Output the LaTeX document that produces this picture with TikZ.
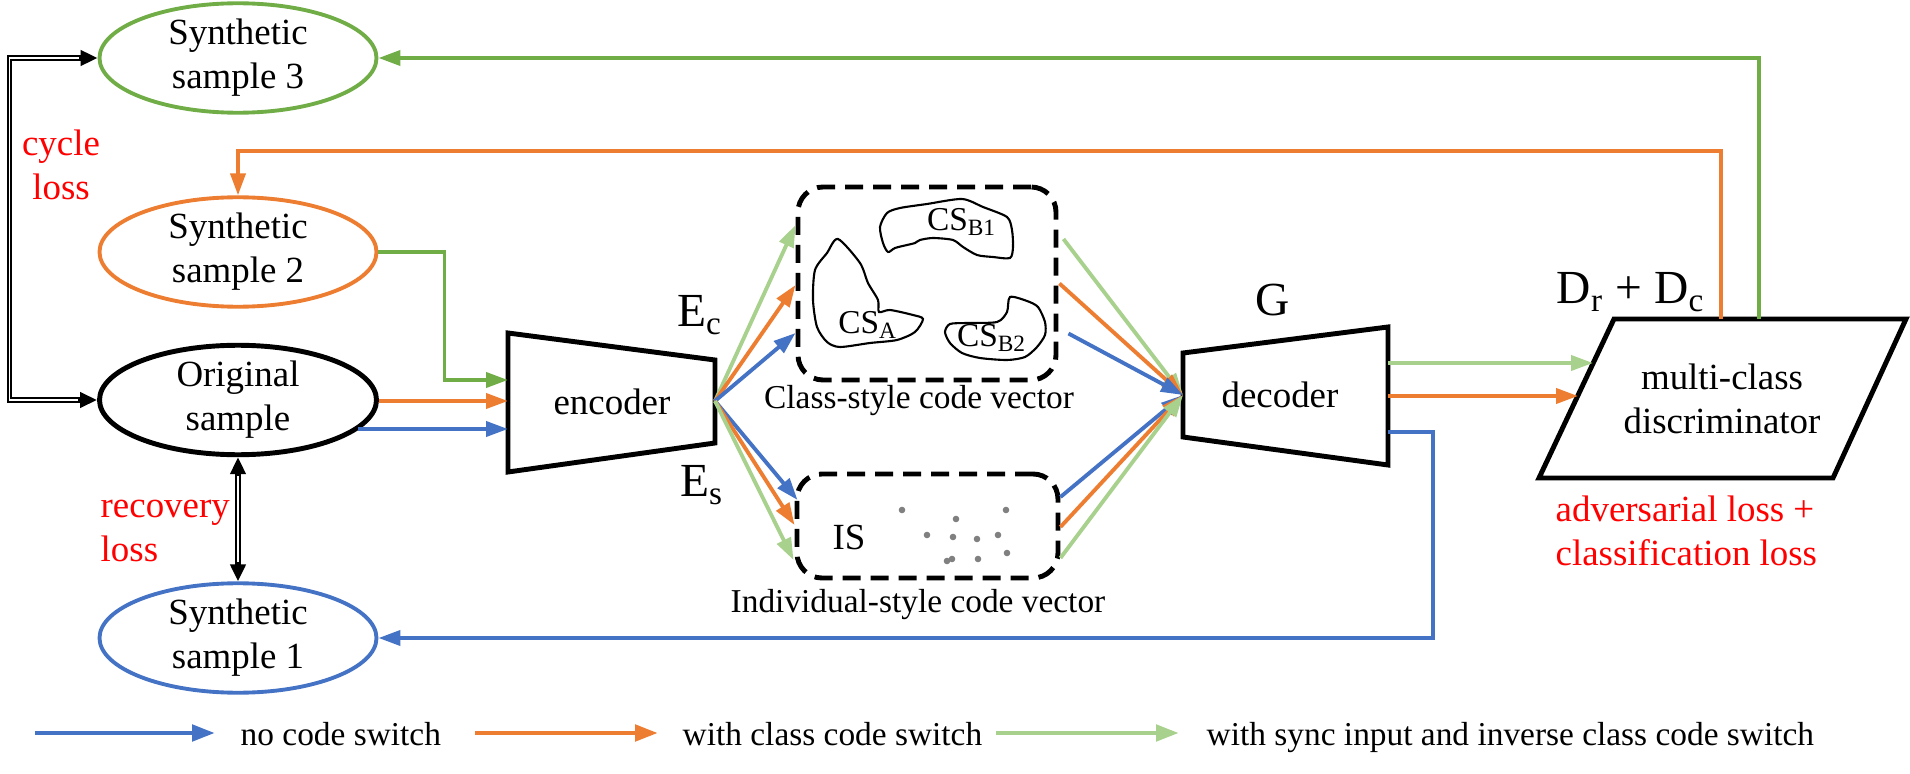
\documentclass[tikz,border=0pt]{standalone}
\usepackage{fontspec}
\setmainfont{Liberation Serif}
\usetikzlibrary{arrows.meta,shapes.geometric}

\definecolor{cblue}{HTML}{4472C4}
\definecolor{corange}{HTML}{ED7D31}
\definecolor{cgreen}{HTML}{70AD47}
\definecolor{clgreen}{HTML}{A9D18E}

\begin{document}
\begin{tikzpicture}[
  font=\fontsize{10.5}{12.5}\selectfont,
  sample/.style={draw, ellipse, line width=1.1pt, minimum width=2.77cm, minimum height=1cm, inner sep=0pt, align=center},
  codebox/.style={draw, line width=1.4pt, dash pattern=on 1.8mm off 1mm, rounded corners=2.5mm},
  block/.style={draw, line width=1.4pt, line join=miter},
  flow/.style={line width=1.1pt, -{Triangle[length=2.2mm,width=1.5mm]}},
  loss/.style={line width=1.5pt, {Triangle[length=1.7mm,width=1.5mm]}-{Triangle[length=1.7mm,width=1.5mm]}},
  lossgap/.style={white, line width=0.5pt, shorten <=1.9mm, shorten >=1.9mm},
  lossnote/.style={text=red, align=center},
  caption/.style={font=\fontsize{9.5}{11}\selectfont},
  big/.style={font=\fontsize{13.5}{15}\selectfont},
  legarr/.style={line width=1.4pt, -{Triangle[length=2.3mm,width=1.6mm]}},
  legtext/.style={anchor=base west, inner sep=0pt, font=\fontsize{9.5}{11}\selectfont}
]
\useasboundingbox (0,0) rectangle (19.1,7.73);

% samples
\node[sample, draw=cgreen] (syn3) at (2.38,7.15) {Synthetic\\sample 3};
\node[sample, draw=corange] (syn2) at (2.38,5.21) {Synthetic\\sample 2};
\node[sample, line width=1.4pt] (orig) at (2.38,3.73) {Original\\sample};
\node[sample, draw=cblue] (syn1) at (2.38,1.35) {Synthetic\\sample 1};
\node[lossnote] (cyc) at (0.61,6.08) {cycle\\loss};
\node[lossnote, anchor=west, align=left, inner sep=0pt] (rec) at (1.00,2.42) {recovery\\loss};

% encoder
\draw[block] (5.08,4.40) -- (7.15,4.13) -- (7.15,3.30) -- (5.08,3.01) -- cycle;
\node (enc) at (6.12,3.71) {encoder};
\coordinate (enc-g) at (5.08,3.93);
\coordinate (enc-o) at (5.08,3.72);
\coordinate (enc-b) at (5.08,3.44);
\coordinate (enc-out) at (7.15,3.72);
\node[big] (ec) at (7.00,4.58) {E\textsubscript{c}};
\node[big] (es) at (7.02,2.88) {E\textsubscript{s}};

% code vectors
\node[codebox, minimum width=2.58cm, minimum height=1.93cm] (cls) at (9.27,4.895) {};
\node[codebox, minimum width=2.61cm, minimum height=1.04cm] (is) at (9.275,2.47) {};
\node[caption] (clscap) at (9.19,3.72) {Class-style code vector};
\node[caption] (iscap) at (9.18,1.68) {Individual-style code vector};
\node (istext) at (8.49,2.36) {IS};

\draw[line width=0.6pt] plot[smooth cycle, tension=0.45] coordinates {
  (8.38,5.34) (8.60,5.10) (8.68,4.90) (8.78,4.73) (8.79,4.61) (8.90,4.63)
  (9.13,4.58) (9.23,4.54) (9.15,4.41) (8.97,4.33) (8.70,4.30) (8.40,4.26)
  (8.27,4.31) (8.17,4.46) (8.13,4.73) (8.15,5.03) (8.27,5.20)};
\draw[line width=0.6pt] plot[smooth cycle, tension=0.45] coordinates {
  (8.80,5.46) (8.87,5.60) (9.00,5.65) (9.27,5.69) (9.62,5.74) (9.83,5.66)
  (10.07,5.56) (10.12,5.43) (10.13,5.26) (10.10,5.15) (9.93,5.16) (9.77,5.18)
  (9.63,5.26) (9.53,5.33) (9.33,5.35) (9.20,5.33) (9.15,5.30) (9.07,5.28)
  (8.95,5.25) (8.88,5.21) (8.83,5.30)};
\draw[line width=0.6pt] plot[smooth cycle, tension=0.45] coordinates {
  (10.10,4.76) (10.27,4.72) (10.38,4.66) (10.45,4.51) (10.45,4.38) (10.37,4.26)
  (10.25,4.16) (10.07,4.13) (9.80,4.15) (9.62,4.20) (9.50,4.30) (9.45,4.41)
  (9.50,4.49) (9.67,4.50) (9.97,4.51) (10.07,4.61)};
\node[font=\fontsize{9.5}{11}\selectfont] (csa) at (8.68,4.48) {CS\textsubscript{A}};
\node[font=\fontsize{9.5}{11}\selectfont] (csb1) at (9.62,5.51) {CS\textsubscript{B1}};
\node[font=\fontsize{9.5}{11}\selectfont] (csb2) at (9.92,4.35) {CS\textsubscript{B2}};

\foreach \p in {(9.02,2.63),(10.06,2.63),(9.56,2.54),(9.27,2.38),(9.53,2.36),(9.77,2.34),
  (9.98,2.38),(10.07,2.20),(9.47,2.12),(9.52,2.14),(9.78,2.14)}
  \fill[black!50] \p circle (0.033);

% decoder
\draw[block] (11.83,4.20) -- (13.88,4.46) -- (13.88,3.08) -- (11.83,3.36) -- cycle;
\node (dec) at (12.80,3.78) {decoder};
\node[big] (glabel) at (12.73,4.73) {G};
\coordinate (dec-in) at (11.83,3.78);
\coordinate (dec-g) at (13.88,4.10);
\coordinate (dec-o) at (13.88,3.77);
\coordinate (dec-b) at (13.88,3.41);

% discriminator
\draw[block] (15.39,2.95) -- (16.14,4.54) -- (19.06,4.54) -- (18.33,2.95) -- cycle;
\node[align=center] (dis) at (17.22,3.74) {multi-class\\discriminator};
\node[big] (dlabel) at (16.31,4.81) {D\textsubscript{r} + D\textsubscript{c}};
\node[lossnote, anchor=west, align=left, inner sep=0pt] (adv) at (15.55,2.42) {adversarial loss +\\classification loss};
\coordinate (dis-g) at (15.93,4.10);
\coordinate (dis-o) at (15.78,3.77);
\coordinate (dis-tg) at (17.59,4.54);
\coordinate (dis-to) at (17.21,4.54);

% inputs
\draw[flow, cgreen] (syn2.east) -- ++(0.66,0) |- (enc-g);
\draw[flow, corange] (enc-o -| orig.east) -- (enc-o);
\draw[flow, cblue] (enc-b -| orig.-14) -- (enc-b);

% encoder fan
\draw[flow, clgreen] (enc-out) -- ([yshift=5.85mm]cls.west);
\draw[flow, corange] (enc-out) -- ([yshift=-0.15mm]cls.west);
\draw[flow, cblue] (enc-out) -- ([yshift=-4.95mm]cls.west);
\draw[flow, cblue] (enc-out) -- ([yshift=2.6mm, xshift=0.3mm]is.west);
\draw[flow, corange] (enc-out) -- ([yshift=0.1mm]is.west);
\draw[flow, clgreen] (enc-out) -- ([yshift=-3.4mm, xshift=-0.1mm]is.west);

% decoder fan
\draw[flow, clgreen] ([yshift=4.45mm, xshift=0.5mm]cls.east) -- (dec-in);
\draw[flow, corange] ([xshift=0.1mm]cls.east) -- (dec-in);
\draw[flow, cblue] ([yshift=-5mm, xshift=1mm]cls.east) -- (dec-in);
\draw[flow, cblue] ([yshift=2.9mm]is.east) -- (dec-in);
\draw[flow, corange] ([yshift=-0.1mm]is.east) -- (dec-in);
\draw[flow, clgreen] ([yshift=-3.2mm]is.east) -- (dec-in);

% outputs
\draw[flow, clgreen] (dec-g) -- (dis-g);
\draw[flow, corange] (dec-o) -- (dis-o);
\draw[flow, cblue] (dec-b) -- ++(0.45,0) |- (syn1.east);
\draw[flow, corange] (dis-to) -- ++(0,1.68) -| (syn2.north);
\draw[flow, cgreen] (dis-tg) |- (syn3.east);

% losses
\draw[loss] (syn3.west) -- ++(-0.88,0) |- (orig.west);
\draw[lossgap] (syn3.west) -- ++(-0.88,0) |- (orig.west);
\draw[loss] (orig.south) -- (syn1.north);
\draw[lossgap] (orig.south) -- (syn1.north);

% legend
\coordinate (lb) at (0.35,0.40);
\coordinate (lo) at (4.75,0.40);
\coordinate (lg) at (9.96,0.40);
\node[legtext] (lbt) at (2.40,0.28) {no code switch};
\node[legtext] (lot) at (6.82,0.28) {with class code switch};
\node[legtext] (lgt) at (12.06,0.28) {with sync input and inverse class code switch};
\draw[legarr, cblue] (lb) -- (lb -| 2.15,0);
\draw[legarr, corange] (lo) -- (lo -| 6.58,0);
\draw[legarr, clgreen] (lg) -- (lg -| 11.79,0);
\end{tikzpicture}
\end{document}
